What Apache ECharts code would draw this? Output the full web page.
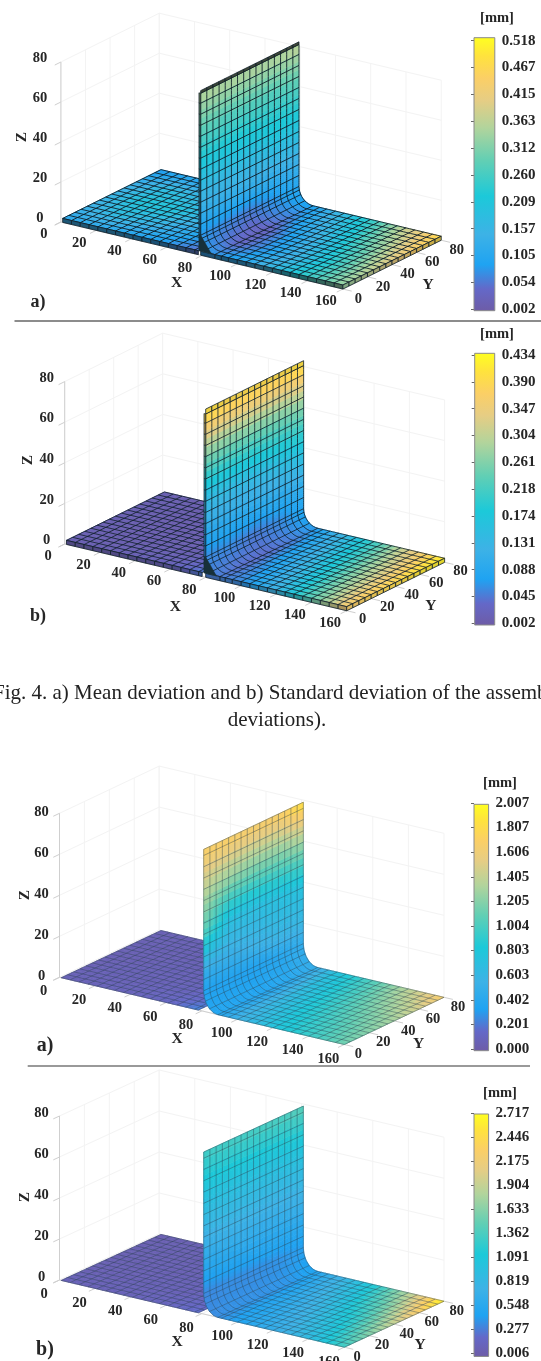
<!DOCTYPE html>
<html><head><meta charset="utf-8">
<style>html,body{margin:0;padding:0;background:#fff;overflow:hidden}#chart{width:541px;height:1361px;filter:blur(0.4px)}</style>
<script src="https://cdn.jsdelivr.net/npm/echarts@6/dist/echarts.min.js"></script>
</head><body><div id="chart"></div>
<script>
// ---- axis ticks
const xTicks=[0,20,40,60,80,100,120,140,160];
const yTicks=[0,20,40,60,80];
const zTicks=[0,20,40,60,80];
const nodeY=[0,20,40,60,80];
const leftX=[1,20,40,60,78];
const plateX=[160,140,120,100];
const wallZ=[10,20,40,60];
// ---- mesh lines
const meshY=[0,5,10,15,20,25,30,35,40,45,50,55,60,65,70,75,80];
const meshLeftX=[1,6,11,16,21,26,31,36,41,46,51,56,61,66,71,76,78];
const meshPlateX=[160,155,150,145,140,135,130,125,120,115,110,105,100,95,91];
const meshArc=[0.4,0.68,0.86];
const meshWallZ=[10,15.5,21,26.5,32,37.5,43,48.5,54,59.5,65,70.5,76];
// ---- colour scale labels (low to high)
const scaleA=['0.002','0.054','0.105','0.157','0.209','0.260','0.312','0.363','0.415','0.467','0.518'];
const scaleB=['0.002','0.045','0.088','0.131','0.174','0.218','0.261','0.304','0.347','0.390','0.434'];
const scaleC=['0.000','0.201','0.402','0.603','0.803','1.004','1.205','1.405','1.606','1.807','2.007'];
const scaleD=['0.006','0.277','0.548','0.819','1.091','1.362','1.633','1.904','2.175','2.446','2.717'];
// ---- deviations [mm]; left plate rows follow leftX, main rows follow plateX, fillet end, wallZ, top
const leftA=[[.11,.14,.15,.13,.08],[.12,.18,.21,.18,.10],[.10,.16,.20,.16,.08],[.08,.12,.15,.11,.05],[.05,.07,.08,.06,.03]];
const mainA=[[.33,.36,.40,.44,.47],[.25,.24,.27,.32,.37],[.17,.15,.17,.20,.24],[.10,.07,.08,.12,.15],[.08,.04,.03,.06,.09],[.08,.07,.06,.08,.10],[.12,.12,.12,.12,.13],[.19,.19,.19,.20,.20],[.27,.26,.26,.26,.27],[.35,.35,.35,.35,.36]];
const leftB=[[.015,.015,.015,.015,.015],[.015,.012,.012,.012,.012],[.018,.012,.012,.012,.012],[.022,.015,.012,.012,.012],[.05,.03,.02,.02,.02]];
const mainB=[[.36,.38,.39,.41,.42],[.24,.26,.28,.30,.33],[.13,.15,.17,.19,.21],[.06,.07,.09,.10,.12],[.05,.04,.04,.05,.07],[.06,.06,.05,.06,.08],[.09,.09,.09,.09,.10],[.15,.15,.15,.16,.17],[.26,.25,.25,.25,.26],[.40,.39,.39,.39,.40]];
const leftC=[[.08,.07,.07,.07,.07],[.09,.08,.07,.07,.07],[.10,.08,.08,.07,.07],[.13,.10,.08,.08,.08],[.25,.16,.12,.10,.10]];
const mainC=[[1.15,1.22,1.32,1.48,1.68],[.95,1.02,1.12,1.24,1.38],[.78,.84,.90,.96,1.04],[.56,.60,.64,.70,.76],[.38,.38,.38,.42,.50],[.36,.36,.36,.40,.46],[.50,.50,.55,.60,.60],[1.10,.75,.72,.75,.78],[1.40,1.28,1.22,1.22,1.30],[1.72,1.72,1.70,1.72,1.88]];
const leftD=[[.12,.10,.09,.09,.08],[.12,.10,.09,.09,.09],[.13,.11,.10,.09,.09],[.16,.12,.11,.10,.10],[.25,.18,.14,.12,.12]];
const mainD=[[1.35,1.65,1.95,2.32,2.68],[.92,1.06,1.26,1.52,1.84],[.68,.76,.86,1.00,1.14],[.48,.52,.58,.64,.74],[.38,.40,.40,.42,.50],[.36,.38,.38,.40,.44],[.52,.54,.55,.55,.56],[.80,.80,.80,.80,.82],[1.06,1.05,1.05,1.06,1.08],[1.34,1.36,1.38,1.40,1.46]];

// ---- layout
const panels=[
 {name:'a)',left:leftA,main:mainA,scale:scaleA,vmin:.002,vmax:.518,top:0,h:322,O:[60.9,222],ex:[1.7625,.419],ey:[1.229,-.61],ez:-2.0,wallX:79.3,wallTop:81,thick:2,topT:1.3,
  lx:[-17,12.7],ly:[15.5,10],lz:[-21,-4],mesh:['#10202a',.9,1],shade:[.72,.55],
  cb:{x:474,w:20.8,top:37.7,bot:310.7,l0:40.7,l1:309.3,font:15},mm:[497,18],zT:[21.8,137],xT:[176.5,283],yT:[428,285],tag:[38,302,18]},
 {name:'b)',left:leftB,main:mainB,scale:scaleB,vmin:.002,vmax:.434,top:322,h:343,O:[64.7,544],ex:[1.7625,.417],ey:[1.224,-.605],ez:-2.03,wallX:80,wallTop:80.5,thick:2,topT:2.4,
  lx:[-16.5,12.6],ly:[16,9],lz:[-18,-3.6],mesh:['#10202a',.85,.95],shade:[.08,.3],
  cb:{x:474.7,w:20,top:353.3,bot:625,l0:355,l1:623.3,font:15},mm:[497,334],zT:[27.7,460],xT:[175.4,606.7],yT:[430.8,606],tag:[38,616.7,18]},
 {name:'a)',left:leftC,main:mainC,scale:scaleC,vmin:0,vmax:2.007,top:740,h:326,O:[59.5,977.3],ex:[1.78,.42],ey:[1.246,-.59],ez:-2.05,wallX:81,wallTop:79,thick:0,topT:0,
  lx:[-16,14.3],ly:[14,10],lz:[-18,-1],mesh:['#2b4050',.6,.7],shade:[0,0],
  cb:{x:474,w:14.6,top:804.3,bot:1050.7,l0:803,l1:1049,font:15},mm:[500,783],zT:[25,895],xT:[177,1039],yT:[418.7,1044],tag:[45,1046,20]},
 {name:'b)',left:leftD,main:mainD,scale:scaleD,vmin:.006,vmax:2.717,top:1066,h:295,O:[59.5,1280],ex:[1.78,.42],ey:[1.246,-.575],ez:-2.05,wallX:81,wallTop:79,thick:0,topT:0,
  lx:[-15.5,14.6],ly:[12.7,9.8],lz:[-18,-3],mesh:['#2b4050',.6,.7],shade:[0,0],
  cb:{x:474,w:14.6,top:1114,bot:1362,l0:1113.3,l1:1359,font:15},mm:[500,1093],zT:[25,1197],xT:[177,1341.7],yT:[420,1345],tag:[45,1350,20]}
];
const FONT='"Liberation Serif","Times New Roman",serif', INK='#262626';
const stops=[[0,'#6e5ca6'],[.08,'#6468c8'],[.17,'#1fa3f2'],[.28,'#3db2e6'],[.42,'#1cc9d9'],[.55,'#62cfb4'],[.67,'#b2d49c'],[.77,'#e6cd84'],[.85,'#fbcf66'],[.93,'#ffe23e'],[1,'#ffff20']];
const rgb=h=>[1,3,5].map(k=>parseInt(h.substr(k,2),16));
function ramp(t,dark){
  t=Math.max(0,Math.min(1,t));
  let k=0; while(k<stops.length-2&&t>stops[k+1][0])k++;
  const a=stops[k],b=stops[k+1],f=(t-a[0])/(b[0]-a[0]),A=rgb(a[1]),B=rgb(b[1]);
  const c=A.map((v,n)=>Math.round((v+(B[n]-v)*f)*(1-(dark||0))+18*(dark||0)));
  return 'rgb('+c.join(',')+')';
}
const project=(p,X,Y,Z)=>[X*p.ex[0]+Y*p.ey[0]+p.O[0], X*p.ex[1]+Y*p.ey[1]+Z*p.ez+p.O[1]-p.top];
const frac=(list,v)=>{let k=0;while(k<list.length-2&&v>list[k+1])k++;return k+(v-list[k])/(list[k+1]-list[k]);};

// position along the main sheet: stations 0..3 plate, 3..4 plate to fillet start, 4..5 fillet, 5.. wall
function mainPath(p,s){
  const pl=plateX.concat([p.wallX+8]), wz=wallZ.concat([p.wallTop]);
  if(s<=4){const k=Math.min(3,Math.floor(s));return [pl[k]+(pl[k+1]-pl[k])*(s-k),p.thick];}
  if(s<=5){const th=(s-4)*Math.PI/2;return [p.wallX+8*(1-Math.sin(th)),p.thick+(10-p.thick)*(1-Math.cos(th))];}
  const k=Math.min(3,Math.floor(s-5));return [p.wallX,wz[k]+(wz[k+1]-wz[k])*(s-5-k)];
}
function sampled(tab,i,j,fi,fj){
  const a=tab[i][j],b=tab[i][j+1],c=tab[i+1][j],d=tab[i+1][j+1];
  return (a*(1-fj)+b*fj)*(1-fi)+(c*(1-fj)+d*fj)*fi;
}
function tabAt(tab,s,y){
  const i=Math.min(tab.length-2,Math.floor(s)),fj=frac(nodeY,y),j=Math.min(3,Math.floor(fj));
  return sampled(tab,i,j,s-i,fj-j);
}
const NS=5;
function surfaceSeries(p,g,tab,where,name){
  const data=[];
  for(let i=0;i<tab.length-1;i++)for(let j=0;j<nodeY.length-1;j++)data.push([i,j]);
  return {type:'custom',name,xAxisIndex:g,yAxisIndex:g,silent:true,clip:false,animation:false,data,
    renderItem:(ps,api)=>{
      const i=api.value(0),j=api.value(1),children=[];
      for(let a=0;a<NS;a++)for(let b=0;b<NS;b++){
        const pts=[[a,b],[a+1,b],[a+1,b+1],[a,b+1]].map(q=>{
          const xz=where(i+q[0]/NS),Y=nodeY[j]+(nodeY[j+1]-nodeY[j])*q[1]/NS;
          return api.coord(project(p,xz[0],Y,xz[1]));
        });
        const v=sampled(tab,i,j,(a+.5)/NS,(b+.5)/NS),c=ramp((v-p.vmin)/(p.vmax-p.vmin));
        children.push({type:'polygon',shape:{points:pts},style:{fill:c,stroke:c,lineWidth:.7}});
      }
      return {type:'group',children};
    }};
}
function lineSeries(g,name,lines,style,z){
  return {type:'custom',name,xAxisIndex:g,yAxisIndex:g,silent:true,clip:false,animation:false,z:z||2,
    data:lines.map((l,k)=>[k]),
    renderItem:(ps,api)=>{
      const l=lines[api.value(0)];
      return {type:'polyline',shape:{points:l.pts.map(q=>api.coord(q))},style:Object.assign({fill:null},style,l.style||{})};
    }};
}
function labelSeries(g,name,items){
  return {type:'custom',name,xAxisIndex:g,yAxisIndex:g,silent:true,clip:false,animation:false,z:4,
    data:items.map((l,k)=>[k]),
    renderItem:(ps,api)=>{
      const l=items[api.value(0)],c=api.coord(l.at);
      return {type:'text',x:c[0],y:c[1],style:{text:l.text,font:'bold 14.5px '+FONT,fill:INK,textAlign:'center',textVerticalAlign:'middle'}};
    }};
}
const option={animation:false,backgroundColor:'#fff',grid:[],xAxis:[],yAxis:[],series:[],graphic:[]};
panels.forEach((p,pi)=>{
  // hidden projection plane, one axis unit per pixel
  const g=option.grid.length;
  option.grid.push({left:0,top:p.top,width:541,height:p.h,containLabel:false});
  option.xAxis.push({type:'value',gridIndex:g,min:0,max:541,show:false});
  option.yAxis.push({type:'value',gridIndex:g,min:0,max:p.h,inverse:true,show:false});
  const P=(X,Y,Z)=>project(p,X,Y,Z);
  // box
  const box=[];
  const L=(a,b)=>box.push({pts:[a,b]});
  xTicks.forEach(x=>{L(P(x,80,0),P(x,80,80));L(P(x,0,0),P(x,80,0));});
  yTicks.forEach(y=>{L(P(0,y,0),P(0,y,80));L(P(0,y,0),P(160,y,0));});
  zTicks.forEach(z=>{L(P(0,80,z),P(160,80,z));L(P(0,0,z),P(0,80,z));});
  option.series.push(lineSeries(g,'grid',box,{stroke:'#f3f3f3',lineWidth:1},1));
  const ax=[];
  const A=(a,b)=>ax.push({pts:[a,b]});
  A(P(0,0,0),P(160,0,0));A(P(160,0,0),P(160,80,0));A(P(0,0,0),P(0,0,80));
  const tk=5;
  xTicks.forEach(x=>A(P(x,0,0),P(x,-tk,0)));
  yTicks.forEach(y=>A(P(160,y,0),P(160+tk,y,0)));
  zTicks.forEach(z=>A(P(0,0,z),P(0,-tk,z)));
  option.series.push(lineSeries(g,'axes',ax,{stroke:'#cfcfcf',lineWidth:1},1));
  // left plate
  const lw=s=>{const k=Math.min(3,Math.floor(s));return [leftX[k]+(leftX[k+1]-leftX[k])*(s-k),p.thick];};
  option.series.push(surfaceSeries(p,g,p.left,lw,'left plate'));
  const meshStyle={stroke:p.mesh[0],opacity:p.mesh[1],lineWidth:p.mesh[2]};
  const ml=[];
  meshLeftX.forEach(x=>ml.push({pts:[P(x,0,p.thick),P(x,80,p.thick)]}));
  meshY.forEach(y=>ml.push({pts:[P(1,y,p.thick),P(78,y,p.thick)]}));
  option.series.push(lineSeries(g,'left mesh',ml,meshStyle,2));
  if(p.thick){
    const ed=[];
    for(let k=0;k<meshLeftX.length-1;k++){
      const a=meshLeftX[k],b=meshLeftX[k+1],s=frac(leftX,(a+b)/2),v=tabAt(p.left,s,0);
      ed.push({pts:[P(a,0,p.thick),P(b,0,p.thick),P(b,0,0),P(a,0,0),P(a,0,p.thick)],style:{fill:ramp((v-p.vmin)/(p.vmax-p.vmin),p.shade[1]),stroke:p.mesh[0],lineWidth:.8}});
    }
    option.series.push(lineSeries(g,'left edge',ed,{},2));
  }
  // main sheet: plate, fillet, wall
  const wp=s=>mainPath(p,s);
  option.series.push(surfaceSeries(p,g,p.main,wp,'main sheet'));
  const mm=[];
  const sts=[];
  meshPlateX.forEach(x=>sts.push([Math.max(x,p.wallX+8),p.thick]));
  sts.push(mainPath(p,4));
  meshArc.forEach(f=>sts.push(mainPath(p,4+f)));
  meshWallZ.forEach(z=>sts.push([p.wallX,z]));
  sts.push([p.wallX,p.wallTop]);
  sts.forEach(q=>mm.push({pts:[P(q[0],0,q[1]),P(q[0],80,q[1])]}));
  meshY.forEach(y=>{
    const pts=[];
    for(let s=0;s<=9.001;s+=.1){const q=mainPath(p,Math.min(s,9));pts.push(P(q[0],y,q[1]));}
    mm.push({pts});
  });
  option.series.push(lineSeries(g,'main mesh',mm,meshStyle,3));
  if(p.thick){
    const ed=[];
    const col=(v,d)=>ramp((v-p.vmin)/(p.vmax-p.vmin),d);
    // front edge of the right plate, up to the fillet
    const fx=meshPlateX.concat([p.wallX+8,p.wallX]);
    for(let k=0;k<fx.length-1;k++){
      const a=fx[k],b=fx[k+1],s=Math.min(3.99,(160-(a+b)/2)/20),v=tabAt(p.main,s,0);
      ed.push({pts:[P(a,0,p.thick),P(b,0,p.thick),P(b,0,0),P(a,0,0),P(a,0,p.thick)],style:{fill:col(v,p.shade[1]),stroke:p.mesh[0],lineWidth:.8}});
    }
    for(let k=0;k<meshY.length-1;k++){
      const a=meshY[k],b=meshY[k+1],fj=frac(nodeY,(a+b)/2),j=Math.min(3,Math.floor(fj));
      const vp=sampled(p.main,0,j,0,fj-j),vw=sampled(p.main,8,j,1,fj-j);
      // far end of the right plate
      ed.push({pts:[P(160,a,p.thick),P(160,b,p.thick),P(160,b,0),P(160,a,0),P(160,a,p.thick)],style:{fill:col(vp,p.shade[1]*.4),stroke:p.mesh[0],lineWidth:.8}});
      // top edge of the wall
      ed.push({pts:[P(p.wallX,a,p.wallTop),P(p.wallX,b,p.wallTop),P(p.wallX,b,p.wallTop+p.topT),P(p.wallX,a,p.wallTop+p.topT),P(p.wallX,a,p.wallTop)],style:{fill:col(vw,p.shade[0]),stroke:p.mesh[0],lineWidth:.8}});
    }
    // visible side of the wall
    const zs=[10].concat(meshWallZ.slice(1),[p.wallTop]);
    for(let k=0;k<zs.length-1;k++){
      const a=zs[k],b=zs[k+1],s=5+frac(wallZ.concat([p.wallTop]),(a+b)/2),v=tabAt(p.main,Math.min(8.999,s),0);
      ed.push({pts:[P(p.wallX,0,a),P(p.wallX,0,b),P(p.wallX-1,0,b),P(p.wallX-1,0,a),P(p.wallX,0,a)],style:{fill:col(v,Math.max(p.shade[1],.35)),stroke:p.mesh[0],lineWidth:.6}});
    }
    ed.push({pts:[P(p.wallX,0,10),P(p.wallX-1,0,10),P(p.wallX-1,0,p.thick),P(p.wallX+6,0,p.thick),P(p.wallX,0,10)],style:{fill:'#17303a',stroke:'#17303a',lineWidth:.6}});
    option.series.push(lineSeries(g,'edges',ed,{},4));
  }
  // tick labels
  const items=[];
  xTicks.forEach(x=>{const q=P(x,0,0);items.push({text:String(x),at:[q[0]+p.lx[0],q[1]+p.lx[1]]});});
  yTicks.forEach(y=>{const q=P(160,y,0);items.push({text:String(y),at:[q[0]+p.ly[0],q[1]+p.ly[1]]});});
  zTicks.forEach(z=>{const q=P(0,0,z);items.push({text:String(z),at:[q[0]+p.lz[0],q[1]+p.lz[1]]});});
  option.series.push(labelSeries(g,'tick labels',items));
  // colour bar
  const c=p.cb,cg=option.grid.length;
  option.grid.push({left:c.x,top:c.l0,width:c.w,height:c.l1-c.l0});
  option.xAxis.push({type:'value',gridIndex:cg,min:0,max:1,show:false});
  option.yAxis.push({type:'value',gridIndex:cg,min:0,max:10,interval:1,position:'right',
    axisLine:{show:false},splitLine:{show:false},axisTick:{inside:true,length:3,lineStyle:{color:'#666',width:1}},
    axisLabel:{margin:7,color:INK,fontFamily:FONT,fontWeight:'bold',fontSize:c.font,formatter:v=>p.scale[Math.round(v)]}});
  const unit=(c.l1-c.l0)/10;
  const lo=(c.l1-c.bot)/unit, hi=10+(c.l0-c.top)/unit;
  option.series.push({type:'custom',name:'colour bar '+pi,xAxisIndex:cg,yAxisIndex:cg,silent:true,clip:false,animation:false,
    data:[[0,lo,1,hi]],
    renderItem:(ps,api)=>{
      const a=api.coord([api.value(0),api.value(3)]),b=api.coord([api.value(2),api.value(1)]);
      return {type:'rect',shape:{x:a[0],y:a[1],width:b[0]-a[0],height:b[1]-a[1]},
        style:{stroke:'#8a8a8a',lineWidth:1,fill:new echarts.graphic.LinearGradient(0,1,0,0,stops.map(s=>({offset:s[0],color:s[1]})))}};
    }});
  // free text
  const T=(text,x,y,size,rot)=>option.graphic.push({type:'text',x,y,rotation:rot||0,silent:true,z:10,
    style:{text,font:'bold '+size+'px '+FONT,fill:INK,textAlign:'center',textVerticalAlign:'middle'}});
  T('[mm]',p.mm[0],p.mm[1],14.5);
  T('Z',p.zT[0],p.zT[1],15.5,Math.PI/2);
  T('X',p.xT[0],p.xT[1],15.5);
  T('Y',p.yT[0],p.yT[1],15.5);
  T(p.name,p.tag[0],p.tag[1],p.tag[2]);
});
const rule=(x0,x1,y,w,col)=>option.graphic.push({type:'line',silent:true,z:10,shape:{x1:x0,y1:y,x2:x1,y2:y},style:{stroke:col,lineWidth:w}});
rule(14.5,541,321,2,'#8c8c8c');
rule(27.7,530,1066,1.6,'#777');
option.graphic.push({type:'text',x:-7,y:693,silent:true,style:{text:'Fig. 4. a) Mean deviation and b) Standard deviation of the assembl',font:'21px '+FONT,fill:'#222',textAlign:'left',textVerticalAlign:'middle'}});
option.graphic.push({type:'text',x:277,y:720,silent:true,style:{text:'deviations).',font:'21px '+FONT,fill:'#222',textAlign:'center',textVerticalAlign:'middle'}});
const chart=echarts.init(document.getElementById('chart'),null,{renderer:'canvas'});
chart.setOption(option);
</script></body></html>
